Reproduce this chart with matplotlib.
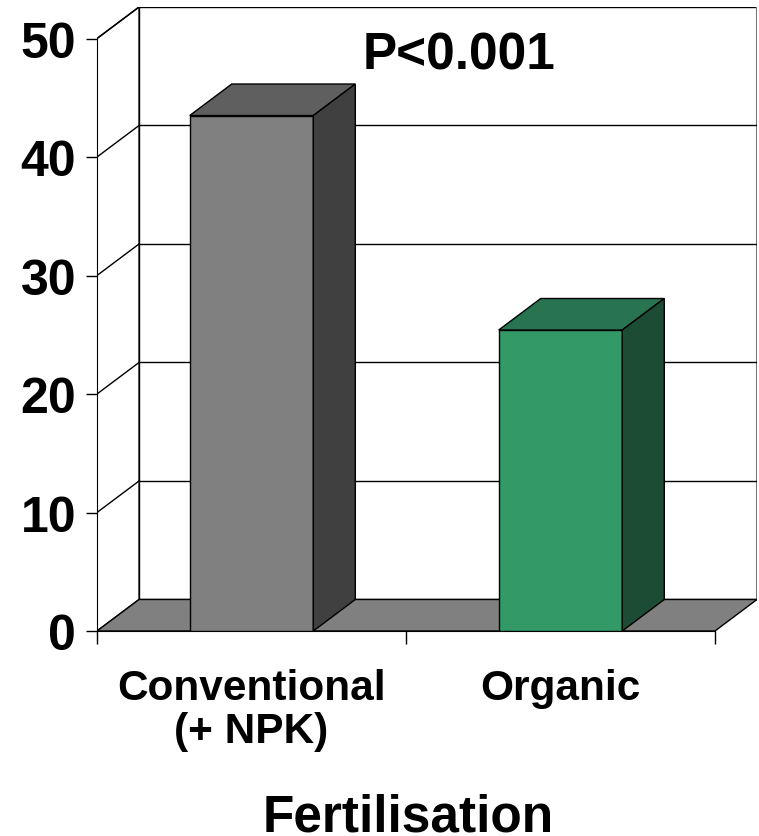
import numpy as np
import matplotlib
matplotlib.use("Agg")
import matplotlib.pyplot as plt

plt.rcParams['font.family'] = ['Liberation Sans', 'DejaVu Sans']
plt.rcParams['font.weight'] = 'bold'

# data
categories = ['Conventional\n(+ NPK)', 'Organic']
values = [43.5, 25.4]
front_colors = ['#808080', '#339966']
top_colors = ['#5f5f5f', '#287350']
side_colors = ['#404040', '#1c4c33']
y_ticks = [0, 10, 20, 30, 40, 50]
p_text = 'P<0.001'

# 3D depth offset in data units
dx = 0.136
dy = 2.66
ymax = 50
ncat = len(categories)

fig = plt.figure(figsize=(7.59, 8.37), dpi=100)
W, H = 759, 837
ax = fig.add_axes([97 / W, 1 - 632 / H, (757 - 97) / W, (632 - 8) / H])
ax.set_xlim(0, ncat + dx)
ax.set_ylim(0, ymax + dy)

# floor
ax.fill([0, ncat, ncat + dx, dx], [0, 0, dy, dy], facecolor='#808080',
        edgecolor='black', lw=1, zorder=1)
# back wall
ax.fill([dx, ncat + dx, ncat + dx, dx], [dy, dy, ymax + dy, ymax + dy],
        facecolor='white', edgecolor='black', lw=1, zorder=0)
# left wall
ax.fill([0, 0, dx, dx], [0, ymax, ymax + dy, dy], facecolor='white',
        edgecolor='black', lw=1, zorder=0)
ax.plot([ncat + dx, ncat + dx], [dy, ymax + dy], color='#777777', lw=1.5, zorder=0.5)

# gridlines on walls
for v in y_ticks[1:-1]:
    ax.plot([dx, ncat + dx], [v + dy, v + dy], color='black', lw=1, zorder=0.5)
    ax.plot([0, dx], [v, v + dy], color='black', lw=1, zorder=0.5)
ax.plot([0, dx], [ymax, ymax + dy], color='black', lw=1, zorder=0.5)

# bars
xc = np.arange(ncat) + 0.5
bw = 0.4
ax.bar(xc, values, width=bw, color=front_colors, edgecolor='black', lw=1, zorder=3)
for x, v, tc, sc in zip(xc, values, top_colors, side_colors):
    x0, x1 = x - bw / 2, x + bw / 2
    ax.fill([x0, x1, x1 + dx, x0 + dx], [v, v, v + dy, v + dy],
            facecolor=tc, edgecolor='black', lw=1, zorder=3)
    ax.fill([x1, x1 + dx, x1 + dx, x1], [0, dy, v + dy, v],
            facecolor=sc, edgecolor='black', lw=1, zorder=3)

ax.text(1.173, 47.5, p_text, ha='center', va='baseline', fontsize=37,
        fontweight='bold', zorder=4)

# axes
for s in ['top', 'right']:
    ax.spines[s].set_visible(False)
ax.spines['left'].set_bounds(0, ymax)
ax.spines['bottom'].set_bounds(0, ncat)
ax.spines['bottom'].set_zorder(2)
ax.set_yticks(y_ticks)
ax.set_yticklabels([str(t) for t in y_ticks], fontsize=36, fontweight='bold')
ax.tick_params(axis='y', length=8, width=1, pad=7, direction='out')
ax.set_xticks(np.arange(ncat + 1))
ax.set_xticklabels([''] * (ncat + 1))
ax.set_xticks(xc, minor=True)
ax.set_xticklabels(categories, minor=True, fontsize=30.5, fontweight='bold',
                   linespacing=1.08)
ax.tick_params(axis='x', which='major', length=9, width=1, direction='out')
ax.tick_params(axis='x', which='minor', length=0, pad=27)
ax.set_xlabel('Fertilisation', fontsize=37, fontweight='bold')
ax.xaxis.label.set_va('baseline')
ax.xaxis.set_label_coords(0.471, -(832 - 632) / 624)

fig.savefig('out.png', dpi=100)
